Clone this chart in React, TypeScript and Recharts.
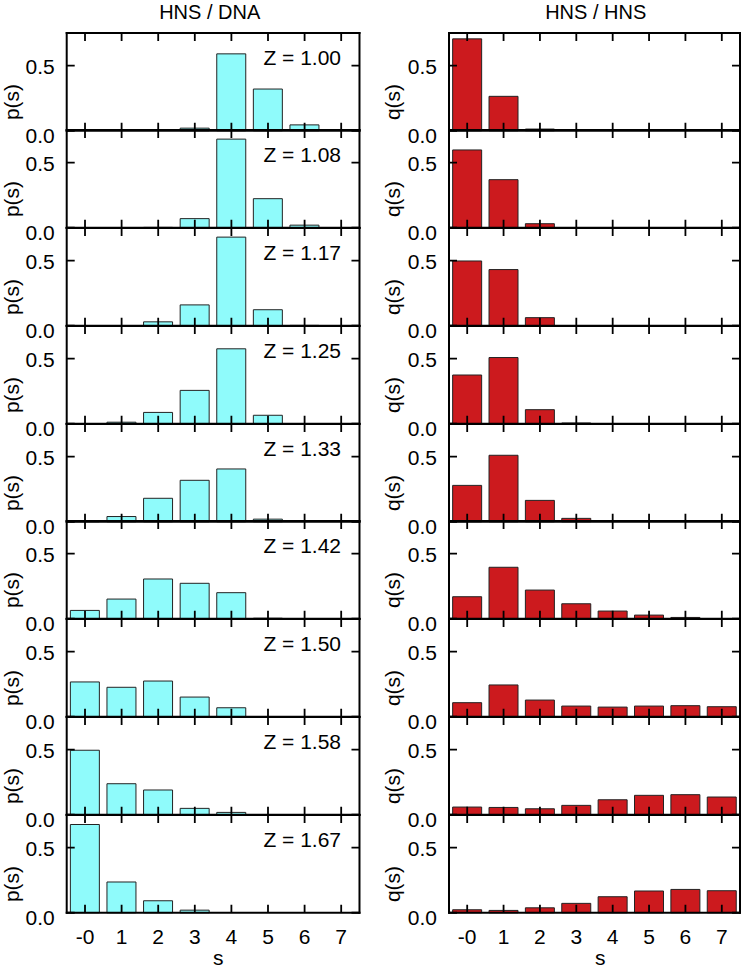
import React from 'react';
import { BarChart, Bar, XAxis, YAxis } from 'recharts';

// ---- categories / labels ----
const sLabels = ['-0', '1', '2', '3', '4', '5', '6', '7'];
const zLabels = ['1.00', '1.08', '1.17', '1.25', '1.33', '1.42', '1.50', '1.58', '1.67'];
const yTicks = [0, 0.5];
const Y_MAX = 0.75;

// ---- HNS / DNA : p(s) ----
const pZ100 = [0, 0, 0, 0.02, 0.59, 0.32, 0.045, 0];
const pZ108 = [0, 0, 0.003, 0.07, 0.68, 0.223, 0.02, 0];
const pZ117 = [0, 0, 0.03, 0.16, 0.68, 0.123, 0.003, 0];
const pZ125 = [0, 0.012, 0.087, 0.256, 0.575, 0.065, 0, 0];
const pZ133 = [0.005, 0.04, 0.18, 0.318, 0.405, 0.02, 0, 0];
const pZ142 = [0.064, 0.151, 0.305, 0.272, 0.2, 0.004, 0, 0];
const pZ150 = [0.267, 0.226, 0.274, 0.151, 0.069, 0, 0, 0];
const pZ158 = [0.495, 0.238, 0.19, 0.049, 0.018, 0, 0, 0];
const pZ167 = [0.677, 0.236, 0.092, 0.02, 0, 0, 0, 0];

// ---- HNS / HNS : q(s) ----
const qZ100 = [0.705, 0.264, 0.013, 0, 0, 0, 0, 0];
const qZ108 = [0.597, 0.369, 0.031, 0, 0, 0, 0, 0];
const qZ117 = [0.497, 0.431, 0.062, 0, 0, 0, 0, 0];
const qZ125 = [0.374, 0.508, 0.108, 0.006, 0, 0, 0, 0];
const qZ133 = [0.279, 0.51, 0.164, 0.026, 0, 0, 0, 0];
const qZ142 = [0.169, 0.395, 0.22, 0.115, 0.059, 0.028, 0.01, 0];
const qZ150 = [0.108, 0.244, 0.128, 0.082, 0.074, 0.082, 0.085, 0.077];
const qZ158 = [0.059, 0.056, 0.046, 0.072, 0.115, 0.149, 0.154, 0.136];
const qZ167 = [0.023, 0.018, 0.038, 0.072, 0.123, 0.167, 0.179, 0.169];

const pSeries = [pZ100, pZ108, pZ117, pZ125, pZ133, pZ142, pZ150, pZ158, pZ167];
const qSeries = [qZ100, qZ108, qZ117, qZ125, qZ133, qZ142, qZ150, qZ158, qZ167];

// ---- layout ----
const FONT = "'Liberation Sans', Arial, Helvetica, sans-serif";
const FS = 21;
const TICK = 8;
const TW = 1.8;
const TOP0 = 32.5;
const PH = 97.76;
const W = 372;
const COLS = [
  { left: 0, yl: 66.7, yr: 12.5, fill: '#8FFBFB', ylabel: 'p(s)', ylx: 19, title: 'HNS / DNA', titleX: 209.7, sX: 218.3 },
  { left: 372, yl: 77, yr: 4, fill: '#CC1A1E', ylabel: 'q(s)', ylx: 28, title: 'HNS / HNS', titleX: 223.7, sX: 228.3 },
];

function Panel({ col, idx }: { col: number; idx: number }) {
  const c = COLS[col];
  const values = col === 0 ? pSeries[idx] : qSeries[idx];
  const data = sLabels.map((s, k) => ({ s, v: values[k] }));
  const isFirst = idx === 0;
  const isLast = idx === 8;
  const mt = isFirst ? 33 : 12; // local y of plot top
  const mb = isLast ? 56 : 22; // space below plot bottom
  const panelTop = TOP0 + PH * idx;
  const chartTop = panelTop - mt;
  const height = mt + PH + mb;
  const plotBottom = mt + PH;
  const leftX = c.yl;
  const rightX = W - c.yr;
  const band = (rightX - leftX) / sLabels.length;
  const axisLine = { stroke: '#000', strokeWidth: 2, strokeLinecap: 'square' as const };

  // inward tick marks on all four sides of the frame
  const frameTicks = () => {
    const xs = sLabels.map((_, k) => leftX + band * (k + 0.5));
    const ys = yTicks.map((t) => plotBottom - (t / Y_MAX) * PH);
    let d = '';
    xs.forEach((x) => {
      d += `M${x},${plotBottom}V${plotBottom - TICK}M${x},${mt}V${mt + TICK}`;
    });
    ys.forEach((y) => {
      d += `M${leftX},${y}H${leftX + TICK}M${rightX},${y}H${rightX - TICK}`;
    });
    return <path d={d} stroke="#000" strokeWidth={TW} fill="none" />;
  };

  const BottomTick = (props: any) => {
    const { x, payload } = props;
    if (!isLast) return <g />;
    return (
      <text x={x} y={944 - chartTop} textAnchor="middle" fontSize={FS} fontFamily={FONT} fill="#000">
        {payload.value}
      </text>
    );
  };
  const Empty = () => <g />;
  const LeftTick = (props: any) => {
    const { y, payload } = props;
    return (
      <text x={leftX - 12} y={y} dy={payload.value === 0 ? 12 : 8} textAnchor="end" fontSize={FS} fontFamily={FONT} fill="#000">
        {Number(payload.value).toFixed(1)}
      </text>
    );
  };

  return (
    <div style={{ position: 'absolute', left: c.left, top: chartTop, width: W, height }}>
      <BarChart
        width={W}
        height={height}
        data={data}
        margin={{ top: mt - 1, right: 0, bottom: mb - 1, left: 0 }}
        barCategoryGap="10%"
      >
        <XAxis
          xAxisId="b"
          dataKey="s"
          orientation="bottom"
          height={1}
          interval={0}
          tickLine={false}
          axisLine={axisLine}
          tick={BottomTick}
          label={() => (
            <g>
              {frameTicks()}
              {isLast && (
                <text x={c.sX} y={965 - chartTop} textAnchor="middle" fontSize={FS} fontFamily={FONT} fill="#000">
                  s
                </text>
              )}
            </g>
          )}
        />
        <XAxis
          xAxisId="t"
          dataKey="s"
          orientation="top"
          height={1}
          interval={0}
          tickLine={false}
          axisLine={axisLine}
          tick={Empty}
          label={
            isFirst
              ? () => (
                  <text x={c.titleX} y={19 - chartTop} textAnchor="middle" fontSize={20} fontFamily={FONT} fill="#000">
                    {c.title}
                  </text>
                )
              : undefined
          }
        />
        <YAxis
          yAxisId="l"
          orientation="left"
          type="number"
          width={c.yl}
          domain={[0, Y_MAX]}
          ticks={yTicks}
          tickLine={false}
          axisLine={axisLine}
          tick={LeftTick}
          label={() => (
            <text
              x={c.ylx}
              y={mt + 69}
              transform={`rotate(-90, ${c.ylx}, ${mt + 69})`}
              textAnchor="middle"
              fontSize={FS}
              fontFamily={FONT}
              fill="#000"
            >
              {c.ylabel}
            </text>
          )}
        />
        <YAxis
          yAxisId="r"
          orientation="right"
          type="number"
          width={c.yr}
          domain={[0, Y_MAX]}
          ticks={yTicks}
          tickLine={false}
          axisLine={axisLine}
          tick={Empty}
          label={
            col === 0
              ? () => (
                  <text x={341} y={mt + 32.5} textAnchor="end" fontSize={FS} fontFamily={FONT} fill="#000">
                    {`Z = ${zLabels[idx]}`}
                  </text>
                )
              : undefined
          }
        />
        <Bar
          xAxisId="b"
          yAxisId="l"
          dataKey="v"
          fill={c.fill}
          stroke="#222"
          strokeWidth={1}
          isAnimationActive={false}
        />
      </BarChart>
    </div>
  );
}

export default function App() {
  const idxs = [0, 1, 2, 3, 4, 5, 6, 7, 8];
  return (
    <div style={{ position: 'absolute', left: 0, top: 0, width: 744, height: 968, background: '#fff', overflow: 'hidden' }}>
      {[0, 1].map((col) => idxs.map((i) => <Panel key={`${col}-${i}`} col={col} idx={i} />))}
    </div>
  );
}
